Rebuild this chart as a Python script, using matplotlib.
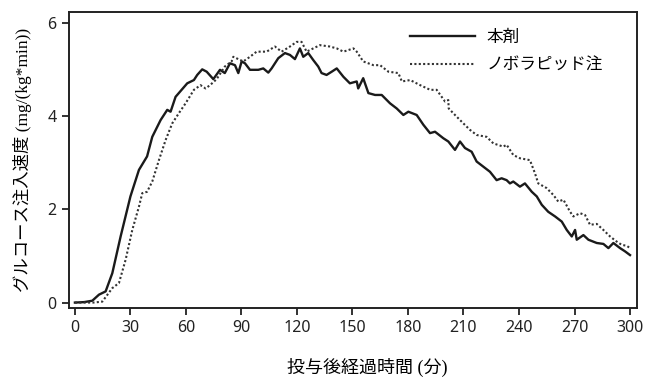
"""
Glucose infusion rate over time: 本剤 vs ノボラピッド注.
Values read off the reference chart.
"""
import matplotlib
matplotlib.use("Agg")
import matplotlib.pyplot as plt

# --- data ------------------------------------------------------------
t_main = [0, 5, 9.4, 13, 16.6, 20.2, 24.7, 30, 34.6, 39, 41.8, 46.3, 49.9, 51.7,
          54.4, 60.7, 64.3, 66.1, 68.8, 71.2, 74.8, 78.4, 81, 83.8, 86.5, 88.3,
          90.1, 91.9, 94.6, 99.1, 101.8, 104.5, 106.3, 109.9, 113.5, 116.2, 118.9,
          121.6, 123.4, 126.1, 128.8, 131.5, 133.3, 136, 138.8, 141.5, 145.1,
          148.6, 152.3, 153.1, 155.8, 158.6, 162.2, 165.8, 170.3, 173.9, 177.5,
          180.2, 184.7, 188.3, 191.9, 194.6, 199.1, 201.8, 205.4, 208.1, 210.8,
          214.4, 217.1, 220.7, 224.3, 227.9, 230.6, 233.3, 235.1, 236.9, 240.5,
          243.2, 246.9, 249.6, 252.3, 255.8, 259.5, 263.1, 265.8, 268.5, 270.3,
          271.2, 274.8, 277.5, 282, 285.6, 288.3, 291, 294.6, 297.3, 300]
v_main = [0.0, 0.01, 0.04, 0.17, 0.24, 0.63, 1.42, 2.28, 2.85, 3.14, 3.56, 3.92,
          4.14, 4.10, 4.42, 4.71, 4.78, 4.89, 5.01, 4.96, 4.80, 5.0, 4.93, 5.14,
          5.10, 4.93, 5.18, 5.14, 5.0, 5.0, 5.03, 4.94, 5.03, 5.25, 5.36, 5.32,
          5.23, 5.46, 5.28, 5.36, 5.21, 5.07, 4.93, 4.89, 4.96, 5.03, 4.85, 4.71,
          4.75, 4.60, 4.82, 4.50, 4.46, 4.46, 4.28, 4.17, 4.03, 4.10, 4.03, 3.82,
          3.64, 3.67, 3.53, 3.46, 3.28, 3.46, 3.32, 3.24, 3.03, 2.92, 2.81, 2.63,
          2.67, 2.63, 2.56, 2.60, 2.49, 2.56, 2.38, 2.28, 2.10, 1.95, 1.85, 1.74,
          1.56, 1.42, 1.56, 1.35, 1.45, 1.35, 1.28, 1.26, 1.17, 1.28, 1.17, 1.10,
          1.02]

t_novo = [0, 5, 10, 14.8, 20.2, 23.8, 27.4, 31, 34.6, 36.4, 39, 41.8, 45.4, 49,
          52.6, 56.2, 59.8, 64.3, 67.9, 70.6, 73, 76.6, 81, 84.7, 85.6, 91, 94.6,
          98.2, 103.6, 108.1, 111.7, 116.2, 119.8, 122.5, 125.2, 128.8, 132.4,
          137.8, 141.5, 145.1, 150.5, 152.3, 155.8, 161.3, 164.9, 169.4, 174.8,
          176.7, 181.2, 186.6, 192, 195.5, 200, 201.8, 202, 205.4, 209.9, 213.5,
          217.1, 222.5, 226.1, 231.5, 233.3, 236.9, 240.5, 245.9, 248.6, 250.4,
          254.9, 258.6, 261.2, 264, 267.6, 269.4, 273, 275.7, 278.4, 282, 285.6,
          289.2, 292.8, 295.5, 298.2, 300]
v_novo = [0.0, 0.0, 0.0, 0.02, 0.31, 0.42, 0.92, 1.56, 2.06, 2.35, 2.38, 2.60,
          3.06, 3.49, 3.85, 4.07, 4.28, 4.57, 4.67, 4.60, 4.67, 4.80, 5.07, 5.18,
          5.28, 5.18, 5.28, 5.39, 5.39, 5.50, 5.39, 5.50, 5.60, 5.60, 5.39, 5.46,
          5.53, 5.50, 5.46, 5.39, 5.46, 5.39, 5.18, 5.10, 5.10, 4.96, 4.93, 4.75,
          4.78, 4.67, 4.57, 4.57, 4.32, 4.35, 4.17, 4.03, 3.85, 3.71, 3.60, 3.56,
          3.42, 3.35, 3.39, 3.17, 3.10, 3.06, 2.78, 2.56, 2.46, 2.31, 2.17, 2.21,
          1.95, 1.85, 1.92, 1.88, 1.67, 1.69, 1.56, 1.42, 1.31, 1.24, 1.22, 1.17]

x_ticks = [0, 30, 60, 90, 120, 150, 180, 210, 240, 270, 300]
y_ticks = [0, 2, 4, 6]
labels = ["本剤", "ノボラピッド注"]
x_label = "投与後経過時間 (分)"
y_label = "グルコース注入速度 (mg/(kg*min))"

# --- plot ------------------------------------------------------------
jp_font = ["Liberation Serif", "Noto Sans CJK JP"]

fig = plt.figure(figsize=(6.46, 3.78), dpi=100)
ax = fig.add_axes([0.1068, 0.186, 0.8788, 0.782])

ax.plot(t_main, v_main, color="#1a1a1a", lw=1.7, label=labels[0])
ax.plot(t_novo, v_novo, color="#333333", lw=1.5, ls=(0, (1, 1.1)),
        label=labels[1])

ax.set_xlim(-3.2, 303.6)
ax.set_ylim(-0.11, 6.24)
ax.set_xticks(x_ticks)
ax.set_yticks(y_ticks)
ax.tick_params(direction="out", length=5, width=1.3, color="#222222",
               labelsize=11.5, pad=4)
for lab in ax.get_xticklabels() + ax.get_yticklabels():
    lab.set_family("Noto Sans")
    lab.set_color("#222222")
for side in ax.spines.values():
    side.set_linewidth(1.4)
    side.set_color("#222222")

ax.set_xlabel(x_label, family=jp_font, fontsize=13)
ax.xaxis.set_label_coords(0.525, -0.17)
ax.set_ylabel(y_label, family=jp_font, fontsize=12.5, labelpad=11)

leg = ax.legend(loc="upper right", bbox_to_anchor=(0.967, 0.99),
                frameon=False, handlelength=3.9, handletextpad=0.7,
                labelspacing=0.7, prop={"family": jp_font, "size": 12})

fig.savefig("out.png", dpi=100)
